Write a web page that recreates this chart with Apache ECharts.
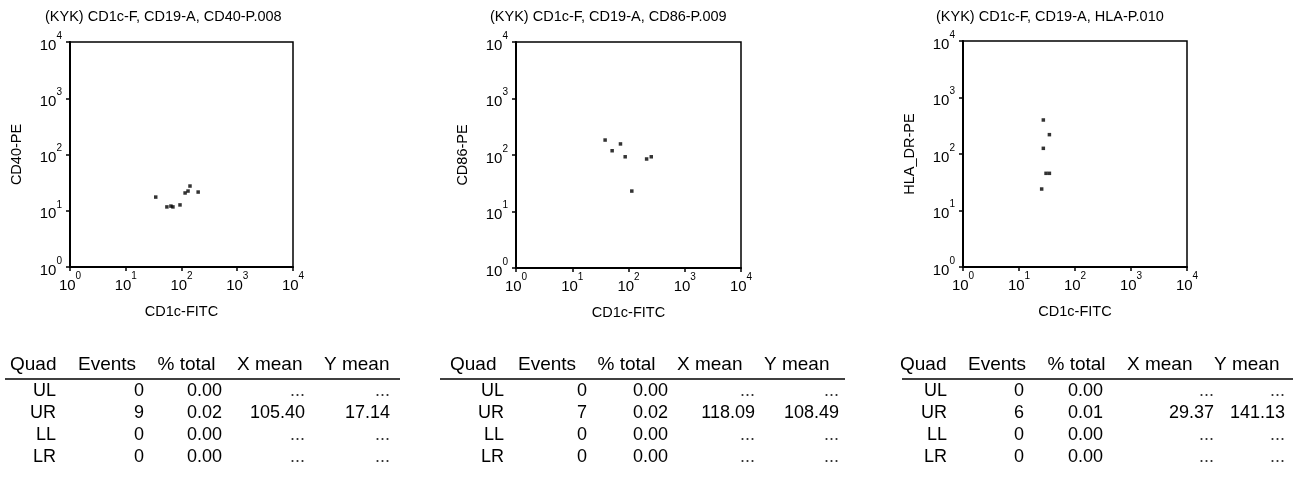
<!DOCTYPE html>
<html>
<head>
<meta charset="utf-8">
<script src="https://cdn.jsdelivr.net/npm/echarts@6/dist/echarts.min.js"></script>
<style>
html,body{margin:0;padding:0;background:#fff;}
#chart{width:1303px;height:491px;}
</style>
</head>
<body>
<div id="chart"></div>
<script>
// ---- data ----
const titles = ['(KYK) CD1c-F, CD19-A, CD40-P.008', '(KYK) CD1c-F, CD19-A, CD86-P.009', '(KYK) CD1c-F, CD19-A, HLA-P.010'];
const yNames = ['CD40-PE', 'CD86-PE', 'HLA_DR-PE'];
const xName = 'CD1c-FITC';
const tickValues = [1, 10, 100, 1000, 10000];

const cd40X = [34.5, 54.7, 64.6, 70.2, 94, 116, 131, 142, 199];
const cd40Y = [17.5, 11.7, 12.1, 11.7, 12.7, 20.7, 22.4, 27.5, 21.5];
const cd86X = [38.4, 51.2, 72, 87.3, 114.5, 210, 254];
const cd86Y = [184, 119, 157, 93, 23, 85, 93];
const hlaX = [27.2, 34.9, 27.2, 30.4, 34.9, 25.4];
const hlaY = [400, 220, 126, 45.5, 45.5, 24];

const headers = ['Quad', 'Events', '% total', 'X mean', 'Y mean'];
const quads = ['UL', 'UR', 'LL', 'LR'];
const events1 = ['0', '9', '0', '0'];
const pct1 = ['0.00', '0.02', '0.00', '0.00'];
const xMean1 = ['...', '105.40', '...', '...'];
const yMean1 = ['...', '17.14', '...', '...'];
const events2 = ['0', '7', '0', '0'];
const pct2 = ['0.00', '0.02', '0.00', '0.00'];
const xMean2 = ['...', '118.09', '...', '...'];
const yMean2 = ['...', '108.49', '...', '...'];
const events3 = ['0', '6', '0', '0'];
const pct3 = ['0.00', '0.01', '0.00', '0.00'];
const xMean3 = ['...', '29.37', '...', '...'];
const yMean3 = ['...', '141.13', '...', '...'];

// ---- layout ----
const FONT = '"Liberation Sans", Arial, Helvetica, sans-serif';
const grids = [
  {left: 70, top: 42, width: 223, height: 225},
  {left: 516, top: 42, width: 225, height: 226},
  {left: 963, top: 41, width: 224, height: 226}
];
const titleLeft = [45, 490, 936];
const tables = [
  {x0: 10, line: [5, 400], cols: [56, 144, 222, 305, 390], data: [quads, events1, pct1, xMean1, yMean1]},
  {x0: 450, line: [440, 845], cols: [504, 587, 668, 755, 839], data: [quads, events2, pct2, xMean2, yMean2]},
  {x0: 900, line: [902, 1293], cols: [947, 1024, 1103, 1214, 1285], data: [quads, events3, pct3, xMean3, yMean3]}
];
const headerRel = [0, 68, 147.5, 227, 314];
const headerY = 365, lineY = 379, rowY = [391, 413, 435, 457];

const seriesData = [
  cd40X.map((v, i) => [v, cd40Y[i]]),
  cd86X.map((v, i) => [v, cd86Y[i]]),
  hlaX.map((v, i) => [v, hlaY[i]])
];

const labelRich = {
  b: {fontSize: 15, fontFamily: FONT, color: '#000', lineHeight: 22, verticalAlign: 'bottom'},
  s: {fontSize: 10, fontFamily: FONT, color: '#000', lineHeight: 22, verticalAlign: 'top'}
};
const fmt = v => '{b|10}{s|' + Math.round(Math.log10(v)) + '}';

const axisCommon = {
  type: 'log', logBase: 10, min: 1, max: 10000, interval: 1,
  axisLine: {show: true, lineStyle: {color: '#000', width: 2}},
  axisTick: {show: true, length: 4, lineStyle: {color: '#000', width: 1.5}},
  splitLine: {show: false},
  minorTick: {show: false},
  nameTextStyle: {fontSize: 14.5, fontFamily: FONT, color: '#000'}
};

const option = {
  backgroundColor: '#fff',
  animation: false,
  title: titles.map((t, i) => ({
    text: t, left: titleLeft[i], top: 9, padding: 0,
    textStyle: {fontSize: 14.5, fontWeight: 'normal', fontFamily: FONT, color: '#000'}
  })),
  grid: grids.map(g => Object.assign({show: true, borderColor: '#000', borderWidth: 1.5, backgroundColor: 'transparent'}, g)),
  xAxis: grids.map((g, i) => Object.assign({}, axisCommon, {
    gridIndex: i, name: xName, nameLocation: 'middle', nameGap: 37,
    axisLabel: {formatter: fmt, rich: labelRich, margin: 4}
  })),
  yAxis: grids.map((g, i) => Object.assign({}, axisCommon, {
    gridIndex: i, name: yNames[i], nameLocation: 'middle', nameGap: 46,
    axisLabel: {formatter: fmt, rich: labelRich, margin: 8}
  })),
  series: seriesData.map((d, i) => ({
    type: 'scatter', xAxisIndex: i, yAxisIndex: i, data: d,
    symbol: 'rect', symbolSize: 3.5,
    itemStyle: {color: '#000'}
  })),
  graphic: []
};

tables.forEach(t => {
  headers.forEach((h, j) => {
    option.graphic.push({type: 'text', x: t.x0 + headerRel[j], y: headerY,
      style: {text: h, font: '19px ' + FONT, fill: '#000', align: 'left', verticalAlign: 'middle'}});
  });
  option.graphic.push({type: 'line', shape: {x1: t.line[0], y1: lineY, x2: t.line[1], y2: lineY},
    style: {stroke: '#000', lineWidth: 1.5}});
  t.data.forEach((col, j) => {
    col.forEach((val, r) => {
      option.graphic.push({type: 'text', x: t.cols[j], y: rowY[r],
        style: {text: val, font: '18px ' + FONT, fill: val === '...' ? '#333' : '#000', align: 'right', verticalAlign: 'middle'}});
    });
  });
});

const chart = echarts.init(document.getElementById('chart'), null, {renderer: 'canvas'});
chart.setOption(option);
</script>
</body>
</html>
